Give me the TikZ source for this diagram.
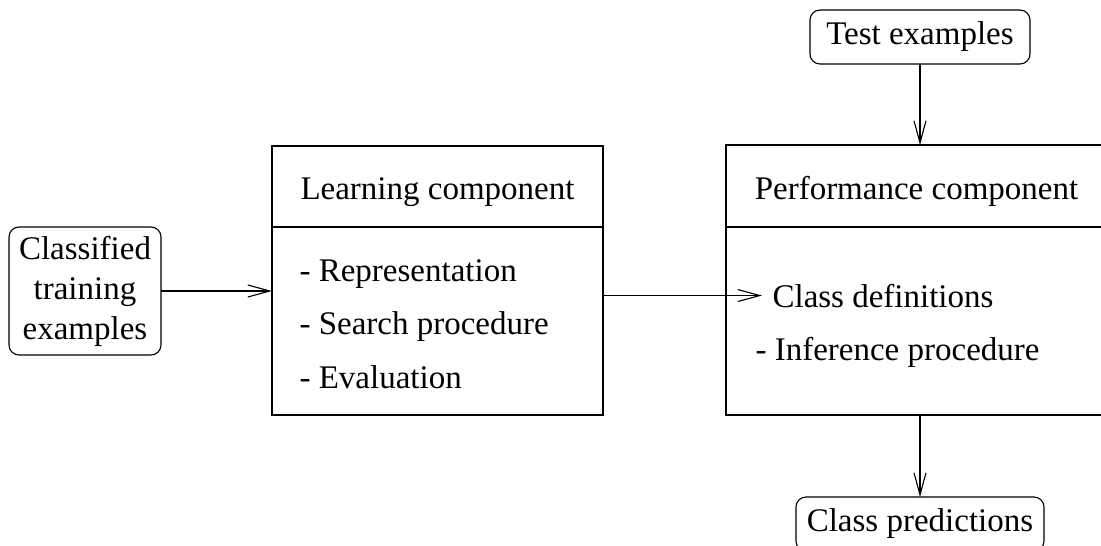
\documentclass[tikz,border=0pt]{standalone}
\usepackage{fontspec}
\setmainfont{Liberation Serif}
\usetikzlibrary{arrows.meta}
\begin{document}
\begin{tikzpicture}[x=0.4pt,y=-0.4pt,font=\fontsize{13.2}{16}\selectfont,line width=0.45pt]
    \useasboundingbox (0,0) rectangle (1101,546);
    \begin{scope}
        \clip (0,0) rectangle (1101,546);
        \tikzstyle{roundbox} = [draw,rounded corners=4pt,inner sep=0pt,outer sep=0pt,align=center]
        \tikzstyle{compbox} = [draw,rectangle,inner sep=0pt,outer sep=0pt]
        \tikzstyle{rowtext} = [inner sep=0pt,anchor=base west]
        \tikzstyle{flow} = [-{Straight Barb[length=8.8pt,width=4.8pt]}]
        \node[roundbox,minimum width=60.8pt,minimum height=51.2pt](train) at (85,291) {Classified\\training\\examples};
        \node[roundbox,minimum width=88pt,minimum height=21.6pt](test) at (920,37) {Test examples};
        \node[roundbox,minimum width=99.2pt,minimum height=21.6pt](pred) at (920,524) {Class predictions};
        \node[compbox,minimum width=132.4pt,minimum height=107.6pt](learn) at (437.5,280.5) {};
        \node[compbox,minimum width=155.2pt,minimum height=108pt](perf) at (920,280) {};
        \draw (learn.west |- 0,227) -- (learn.east |- 0,227);
        \draw (perf.west |- 0,227) -- (perf.east |- 0,227);
        \node[inner sep=0pt,anchor=base](learntitle) at (437.5,200) {Learning component};
        \node[inner sep=0pt,anchor=base](perftitle) at (916.5,200) {Performance component};
        \node[rowtext](rep) at (299,281) {- Representation};
        \node[rowtext](search) at (299,334.5) {- Search procedure};
        \node[rowtext](eval) at (299,388) {- Evaluation};
        \node[rowtext](cdef) at (772,307) {Class definitions};
        \node[rowtext](infer) at (755,360) {- Inference procedure};
        \draw[flow] (train) -- (train -| learn.west);
        \draw[flow,shorten >=4pt] (learn.east |- cdef.west) -- (cdef.west);
        \draw[flow] (test) -- (perf);
        \draw[flow] (perf) -- (pred);
    \end{scope}
\end{tikzpicture}
\end{document}
